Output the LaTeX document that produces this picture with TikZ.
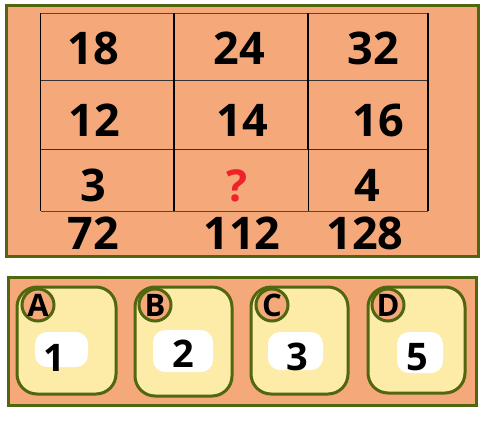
\documentclass[tikz,border=0pt]{standalone}
\usepackage{fontspec}
\setmainfont{Open Sans}
\begin{document}
\begin{tikzpicture}[x=1pt, y=-1pt]
\definecolor{panel}{HTML}{F5A97B}
\definecolor{edge}{HTML}{50660F}
\definecolor{card}{HTML}{FDEBA8}
\definecolor{mark}{HTML}{EE2229}
\tikzset{
  cell/.style = {inner sep=0pt, font=\fontsize{45}{45}\selectfont\bfseries},
  choice/.style = {inner sep=0pt, font=\fontsize{38}{38}\selectfont\bfseries},
  letter/.style = {circle, draw=edge, fill=panel, line width=3pt, minimum size=32pt, inner sep=0pt, font=\fontsize{31}{31}\selectfont\bfseries},
  cardbox/.style = {draw=edge, fill=card, line width=3pt, rounded corners=20pt},
  blank/.style = {fill=white, rounded corners=12pt}
}
\useasboundingbox (0,0) rectangle (485,432);
% number grid
\draw[edge, line width=3pt, fill=panel] (6.5,5.5) rectangle (478.5,256.5);
\draw[black!60!panel, line width=0.8pt] (40.7,13) -- (428,13) (40.7,211) -- (428,211);
\draw[black!80, line width=0.8pt] (40.7,80) -- (428,80) (40.7,149) -- (428,149);
\draw[black, line width=1.2pt] (40.7,13) -- (40.7,211) (174,13) -- (174,211) (428,13) -- (428,211);
\draw[black, line width=2pt] (308,13) -- (308,149);
\draw[black, line width=0.8pt] (308.7,149) -- (308.7,211);
\node[cell] (r1a) at (93,48) {18};
\node[cell] (r1b) at (239,48) {24};
\node[cell] (r1c) at (373,48) {32};
\node[cell] (r2a) at (94,120) {12};
\node[cell] (r2b) at (242,120) {14};
\node[cell] (r2c) at (378,120) {16};
\node[cell] (r3a) at (93,185) {3};
\node[cell, text=mark, font=\fontsize{44}{44}\selectfont\bfseries] (r3b) at (237,186) {?};
\node[cell] (r3c) at (367,185) {4};
\node[cell] (suma) at (93,233) {72};
\node[cell] (sumb) at (242,233) {112};
\node[cell] (sumc) at (365,233) {128};
% answer choices
\draw[edge, line width=3pt, fill=panel] (8.5,277.5) rectangle (476.5,405.5);
\draw[cardbox] (17,287) rectangle (116,394);
\fill[blank] (35,332) rectangle (88,367);
\node[choice] (vala) at (54,358) {1};
\node[letter] (opta) at (38,305) {A};
\draw[cardbox] (135,287) rectangle (232,396);
\fill[blank] (153,330) rectangle (213,372);
\node[choice] (valb) at (183,354) {2};
\node[letter] (optb) at (155,305) {B};
\draw[cardbox] (251,287) rectangle (348,394);
\fill[blank] (268,332) rectangle (323,370);
\node[choice] (valc) at (297,357) {3};
\node[letter] (optc) at (272,305) {C};
\draw[cardbox] (368,287) rectangle (465,393);
\fill[blank] (397,332) rectangle (443,373);
\node[choice] (vald) at (417,357) {5};
\node[letter] (optd) at (388,305) {D};
\end{tikzpicture}
\end{document}
